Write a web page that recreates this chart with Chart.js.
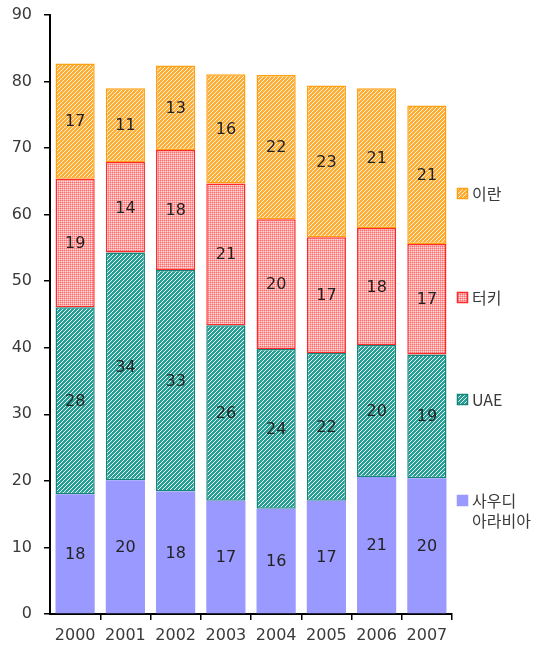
<!DOCTYPE html>
<html>
<head>
<meta charset="utf-8">
<script src="https://cdn.jsdelivr.net/npm/chart.js@4.4.1/dist/chart.umd.min.js"></script>
<style>
  html, body { margin: 0; padding: 0; background: #fff; }
  #wrap { width: 542px; height: 648px; position: relative; }
</style>
</head>
<body>
<div id="wrap"><canvas id="c" width="542" height="648"></canvas></div>
<script>
// Years on the x axis
const years = ['2000', '2001', '2002', '2003', '2004', '2005', '2006', '2007'];

// Series values (stacked bottom to top)
const saudi  = [18.0, 20.1, 18.4, 17.0, 15.8, 17.0, 20.6, 20.4];
const uae    = [28.1, 34.2, 33.3, 26.4, 24.0, 22.2, 19.8, 18.6];
const turkey = [19.3, 13.6, 18.0, 21.3, 19.5, 17.4, 17.6, 16.6];
const iran   = [17.3, 11.1, 12.7, 16.4, 21.7, 22.8, 21.0, 20.8];

// Series names
const names = { saudi: '사우디\n아라비아', uae: 'UAE', turkey: '터키', iran: '이란' };

const FONT = "'DejaVu Sans', 'Noto Sans CJK KR', sans-serif";
const KFONT = "'Noto Sans CJK KR', 'DejaVu Sans', sans-serif";
const TEXT = '#3a3a3a';

// Small repeating fill patterns
function pattern(draw) {
  const c = document.createElement('canvas');
  c.width = 4; c.height = 4;
  const g = c.getContext('2d');
  draw(g);
  return document.getElementById('c').getContext('2d').createPattern(c, 'repeat');
}
function diag(fg, bg) {
  return pattern(g => {
    g.fillStyle = bg; g.fillRect(0, 0, 4, 4);
    g.fillStyle = fg;
    for (let x = 0; x < 4; x++) for (let y = 0; y < 4; y++) {
      if ((x + y) % 4 !== 3) g.fillRect(x, y, 1, 1);
    }
  });
}
const iranFill = diag('#FFAE35', '#FFF3E0');
const uaeFill = diag('#26A096', '#F2FFFD');
const turkeyFill = pattern(g => {
  g.fillStyle = '#FFD6D6'; g.fillRect(0, 0, 4, 4);
  g.fillStyle = '#FF6A6A';
  for (let x = 0; x < 4; x += 2) for (let y = 0; y < 4; y += 2) g.fillRect(x, y, 1, 1);
  g.fillStyle = '#FFA6A6';
  for (let x = 1; x < 4; x += 2) for (let y = 0; y < 4; y += 2) g.fillRect(x, y, 1, 1);
  for (let x = 0; x < 4; x += 2) for (let y = 1; y < 4; y += 2) g.fillRect(x, y, 1, 1);
});
const saudiFill = '#9999FF';

const series = [
  { key: 'saudi',  data: saudi,  fill: saudiFill,  border: '#9999FF' },
  { key: 'uae',    data: uae,    fill: uaeFill,    border: '#13857B' },
  { key: 'turkey', data: turkey, fill: turkeyFill, border: '#FF2A2A' },
  { key: 'iran',   data: iran,   fill: iranFill,   border: '#FFA010' }
];

// Rounded value labels in the middle of each segment
const valueLabels = {
  id: 'valueLabels',
  afterDatasetsDraw(chart) {
    const ctx = chart.ctx;
    ctx.save();
    ctx.font = '16px ' + FONT;
    ctx.fillStyle = '#222';
    ctx.textAlign = 'center';
    ctx.textBaseline = 'middle';
    chart.data.datasets.forEach((ds, i) => {
      chart.getDatasetMeta(i).data.forEach((bar, j) => {
        const y = (bar.y + bar.base) / 2;
        ctx.fillText(String(Math.round(ds.data[j])), bar.x, y + 1);
      });
    });
    ctx.restore();
  }
};

// Legend on the right, top entry is the top of the stack
const sideLegend = {
  id: 'sideLegend',
  afterDraw(chart) {
    const ctx = chart.ctx;
    const area = chart.chartArea;
    const x0 = area.right + 5;
    const rows = [
      { s: series[3], y: 193 },
      { s: series[2], y: 297 },
      { s: series[1], y: 399 },
      { s: series[0], y: 500 }
    ];
    ctx.save();
    ctx.font = '16px ' + KFONT;
    ctx.textBaseline = 'middle';
    rows.forEach(r => {
      ctx.fillStyle = r.s.fill;
      ctx.fillRect(x0 + 0.5, r.y - 4.5, 10, 10);
      ctx.strokeStyle = r.s.border;
      ctx.lineWidth = 1.5;
      ctx.strokeRect(x0 + 0.5, r.y - 4.5, 10, 10);
      ctx.fillStyle = TEXT;
      names[r.s.key].split('\n').forEach((line, k) => {
        ctx.fillText(line, x0 + 15, r.y + 1 + k * 20);
      });
    });
    ctx.restore();
  }
};

new Chart(document.getElementById('c'), {
  type: 'bar',
  data: {
    labels: years,
    datasets: series.map(s => ({
      label: names[s.key],
      data: s.data,
      backgroundColor: s.fill,
      borderColor: s.border,
      borderWidth: s.key === 'saudi' ? 0 : 1.5,
      borderSkipped: false,
      barPercentage: 0.78,
      categoryPercentage: 1.0
    }))
  },
  options: {
    responsive: false,
    animation: false,
    layout: { padding: { left: 0, top: 15, right: 90, bottom: 0 } },
    plugins: { legend: { display: false }, tooltip: { enabled: false } },
    scales: {
      x: {
        stacked: true,
        afterFit(s) { s.height = 34; s.paddingLeft = 0; s.paddingRight = 0; },
        grid: {
          display: true, drawOnChartArea: false, drawTicks: true, tickLength: 6, offset: true, lineWidth: 1.5,
          color: c => (c.index === 0 ? 'rgba(0,0,0,0)' : '#000')
        },
        border: { display: true, color: '#000', width: 2 },
        ticks: { color: TEXT, font: { family: FONT, size: 16 }, padding: 6, maxRotation: 0 }
      },
      y: {
        stacked: true,
        min: 0, max: 90,
        afterFit(s) { s.width = 50; s.paddingTop = 0; s.paddingBottom = 0; },
        grid: { display: true, drawOnChartArea: false, drawTicks: true, tickLength: 6, color: '#000', lineWidth: 1.5 },
        border: { display: true, color: '#000', width: 2 },
        ticks: { stepSize: 10, color: TEXT, font: { family: FONT, size: 16 }, padding: 12 }
      }
    }
  },
  plugins: [valueLabels, sideLegend]
});
</script>
</body>
</html>
